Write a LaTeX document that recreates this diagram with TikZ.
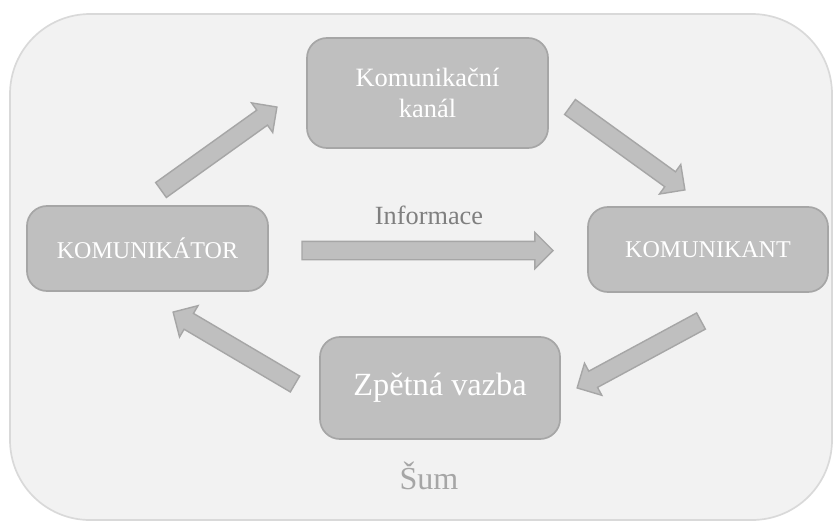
\documentclass[tikz,border=0pt]{standalone}
\usepackage{fontspec}
\setmainfont{Liberation Serif}
\usetikzlibrary{shapes.arrows,calc}

\definecolor{bgfill}{HTML}{F2F2F2}
\definecolor{bgline}{HTML}{D9D9D9}
\definecolor{boxfill}{HTML}{BFBFBF}
\definecolor{boxline}{HTML}{A6A6A6}
\definecolor{infotext}{HTML}{7F7F7F}
\definecolor{sumtext}{HTML}{A6A6A6}

\tikzset{
  box/.style={draw=boxline, fill=boxfill, line width=1.2pt, rounded corners=0.5cm, align=center, text=white, inner sep=0pt},
  barrow/.style={single arrow, draw=boxline, fill=boxfill, line width=1pt, text height=0.425cm, text depth=0pt, minimum width=0pt, single arrow head extend=0.225cm, inner sep=0pt, outer sep=0pt}
}

% block arrow from #1 to #2
\newcommand{\blockarrow}[2]{%
  \path let \p1=($(#2)-(#1)$), \n1={atan2(\y1,\x1)}, \n2={veclen(\x1,\y1)} in
    node[barrow, minimum height=\n2, rotate=\n1, anchor=tail] at (#1) {};}

\begin{document}
\begin{tikzpicture}[x=0.025cm, y=-0.025cm]

\useasboundingbox (0,0) rectangle (833,521);

%background (noise area)
\draw [fill=bgfill, draw=bgline, line width=1.2pt, rounded corners=2cm] (10,14) rectangle (832,520);

%the four boxes
\node [box, minimum width=6.025cm, minimum height=2.75cm, font=\fontsize{18.8}{21.5}\selectfont] (kanal) at (427.5,93) {Komunikační\\kanál}; %top
\node [box, minimum width=6.025cm, minimum height=2.125cm, font=\fontsize{17.1}{20}\selectfont] (komunikator) at (147.5,248.5) {KOMUNIKÁTOR}; %left
\node [box, minimum width=6cm, minimum height=2.125cm, font=\fontsize{17.1}{20}\selectfont] (komunikant) at (708,249.5) {KOMUNIKANT}; %right
\node [box, minimum width=6cm, minimum height=2.55cm, font=\fontsize{23}{27}\selectfont] (vazba) at (440,388) {Zpětná vazba}; %bottom

%texts
\node [anchor=base, text=infotext, font=\fontsize{18.7}{22}\selectfont] (informace) at (429,224) {Informace};
\node [anchor=base, text=sumtext, font=\fontsize{22.8}{26}\selectfont] (sum) at (429,489) {Šum};

%arrow end points
\coordinate (a1s) at (161,190); \coordinate (a1e) at (277,107); %to channel
\coordinate (a2s) at (570,107); \coordinate (a2e) at (685,190); %to receiver
\coordinate (a3s) at (302,250.5); \coordinate (a3e) at (553,250.5); %information
\coordinate (a4s) at (701,321); \coordinate (a4e) at (577,388); %to feedback
\coordinate (a5s) at (295,384); \coordinate (a5e) at (173,312); %back to sender

%block arrows
\blockarrow{a1s}{a1e}
\blockarrow{a2s}{a2e}
\blockarrow{a3s}{a3e}
\blockarrow{a4s}{a4e}
\blockarrow{a5s}{a5e}

\end{tikzpicture}
\end{document}
